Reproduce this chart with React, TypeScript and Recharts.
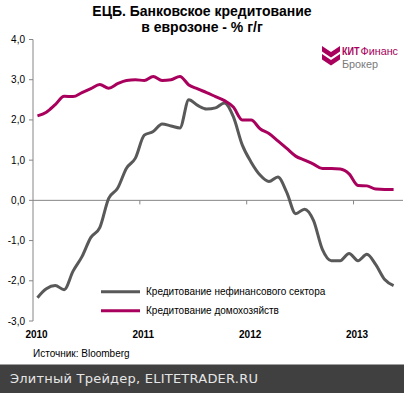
import { LineChart, Line, XAxis, YAxis, ReferenceLine, Legend } from 'recharts';

// monthly, Jan 2010 .. May 2013, % y/y
const nonFinancial = [
  -2.42, -2.2, -2.12, -2.22, -1.76, -1.4, -0.92, -0.68, 0.05, 0.3, 0.8, 1.05,
  1.62, 1.71, 1.9, 1.85, 1.8, 2.5, 2.36, 2.27, 2.3, 2.42, 2.08, 1.38,
  0.95, 0.63, 0.47, 0.58, 0.2, -0.33, -0.22, -0.5, -1.22, -1.5, -1.5, -1.32,
  -1.5, -1.34, -1.6, -1.97, -2.12,
];
const households = [
  2.1, 2.19, 2.38, 2.59, 2.58, 2.68, 2.78, 2.88, 2.79, 2.9, 2.98, 3.0,
  2.98, 3.08, 2.98, 3.0, 3.08, 2.87, 2.77, 2.68, 2.58, 2.48, 2.32, 2.0,
  2.0, 1.78, 1.66, 1.48, 1.29, 1.1, 1.0, 0.9, 0.79, 0.79, 0.78, 0.66,
  0.37, 0.36, 0.28, 0.27, 0.27,
];
const startYear = 2010;
const yearTicks = [2010, 2011, 2012, 2013];
const valueTicks = [-3, -2, -1, 0, 1, 2, 3, 4];
const legendOrder = ['nonFin', 'house'];

const GRAY = '#595959';
const MAGENTA = '#A8005C';
const AXIS = '#868686';

const data = nonFinancial.map((v, i) => ({
  t: startYear + (i + 0.5) / 12,
  nonFin: v,
  house: households[i],
}));

function YearTick(props: any) {
  const { x, y, payload } = props;
  return (
    <text x={x + 3.5} y={y + 16.5} textAnchor="middle" fontSize={10} fontWeight="bold" fill="#000">
      {payload.value}
    </text>
  );
}

function LegendBox(props: any) {
  const items = [...(props.payload || [])].sort(
    (a: any, b: any) => legendOrder.indexOf(a.dataKey) - legendOrder.indexOf(b.dataKey)
  );
  return (
    <svg width={240} height={40} style={{ display: 'block' }}>
      {items.map((it: any, i: number) => (
        <g key={i}>
          <line x1={1} x2={40} y1={8.7 + i * 19} y2={8.7 + i * 19} stroke={it.color} strokeWidth={3} />
          <text x={46} y={12.3 + i * 19} fontSize={10} fill="#000">
            {it.value}
          </text>
        </g>
      ))}
    </svg>
  );
}

export default function App() {
  return (
    <div
      style={{
        position: 'absolute',
        left: 0,
        top: 0,
        width: 404,
        height: 393,
        background: '#fff',
        fontFamily: '"Liberation Sans", Arial, sans-serif',
        overflow: 'hidden',
      }}
    >
      <div
        style={{
          position: 'absolute',
          left: 0,
          top: 4,
          width: 404,
          textAlign: 'center',
          fontSize: 14,
          fontWeight: 'bold',
          lineHeight: '15.5px',
          color: '#000',
        }}
      >
        ЕЦБ. Банковское кредитование
        <br />в еврозоне - % г/г
      </div>

      <LineChart
        width={404}
        height={393}
        data={data}
        margin={{ top: 39.5, right: 1, bottom: 42, left: 0 }}
      >
        <XAxis
          dataKey="t"
          type="number"
          domain={[2010, 2013.463]}
          ticks={yearTicks}
          interval={0}
          axisLine={false}
          tickLine={false}
          tickSize={0}
          tickMargin={0}
          height={30}
          tick={<YearTick />}
          allowDataOverflow
        />
        <YAxis
          type="number"
          domain={[-3, 4]}
          ticks={valueTicks}
          interval={0}
          width={33}
          axisLine={{ stroke: AXIS }}
          tickLine={{ stroke: AXIS }}
          tickSize={4}
          tickMargin={4}
          tick={{ fontSize: 10, fill: '#000' }}
          tickFormatter={(v: number) => v.toFixed(1).replace('.', ',')}
        />
        <ReferenceLine y={0} stroke={AXIS} strokeWidth={1} />
        {yearTicks.slice(1).map((yr) => (
          <ReferenceLine
            key={yr}
            segment={[
              { x: yr, y: 0 },
              { x: yr, y: -0.1 },
            ]}
            stroke={AXIS}
          />
        ))}
        <Legend
          layout="vertical"
          align="center"
          verticalAlign="middle"
          content={<LegendBox />}
          wrapperStyle={{ left: 100, top: 283, width: 240, height: 40 }}
        />
        <Line
          type="monotone"
          dataKey="nonFin"
          name="Кредитование нефинансового сектора"
          stroke={GRAY}
          strokeWidth={3}
          dot={false}
          isAnimationActive={false}
        />
        <Line
          type="monotone"
          dataKey="house"
          name="Кредитование домохозяйств"
          stroke={MAGENTA}
          strokeWidth={3}
          dot={false}
          isAnimationActive={false}
        />
      </LineChart>

      <svg width={404} height={393} style={{ position: 'absolute', left: 0, top: 0, pointerEvents: 'none' }}>
        {/* logo */}
        <polygon points="322,46 331,52 340,46 340,51.5 331,57.5 322,51.5" fill={MAGENTA} />
        <polygon points="322,54 331,60 340,54 340,59.5 331,65.5 322,59.5" fill={MAGENTA} />
        <text x={342} y={55} fontSize={10.5} fontWeight="bold" fill={MAGENTA} textLength={17.5} lengthAdjust="spacingAndGlyphs">
          КИТ
        </text>
        <text x={360.5} y={55} fontSize={10.5} fill={MAGENTA} textLength={37.5} lengthAdjust="spacingAndGlyphs">
          Финанс
        </text>
        <text x={342} y={67.5} fontSize={10.5} fill="#7a7a7a" textLength={36} lengthAdjust="spacingAndGlyphs">
          Брокер
        </text>
        <text x={33} y={356.7} fontSize={10} fill="#000">
          Источник: Bloomberg
        </text>
        <rect x={0} y={364.5} width={404} height={29} fill="#404040" />
        <text
          x={10}
          y={382.7}
          fontSize={13}
          fill="#e6e6e6"
          fontFamily='"DejaVu Sans", sans-serif'
          textLength={248}
          lengthAdjust="spacing"
        >
          Элитный Трейдер, ELITETRADER.RU
        </text>
      </svg>
    </div>
  );
}
